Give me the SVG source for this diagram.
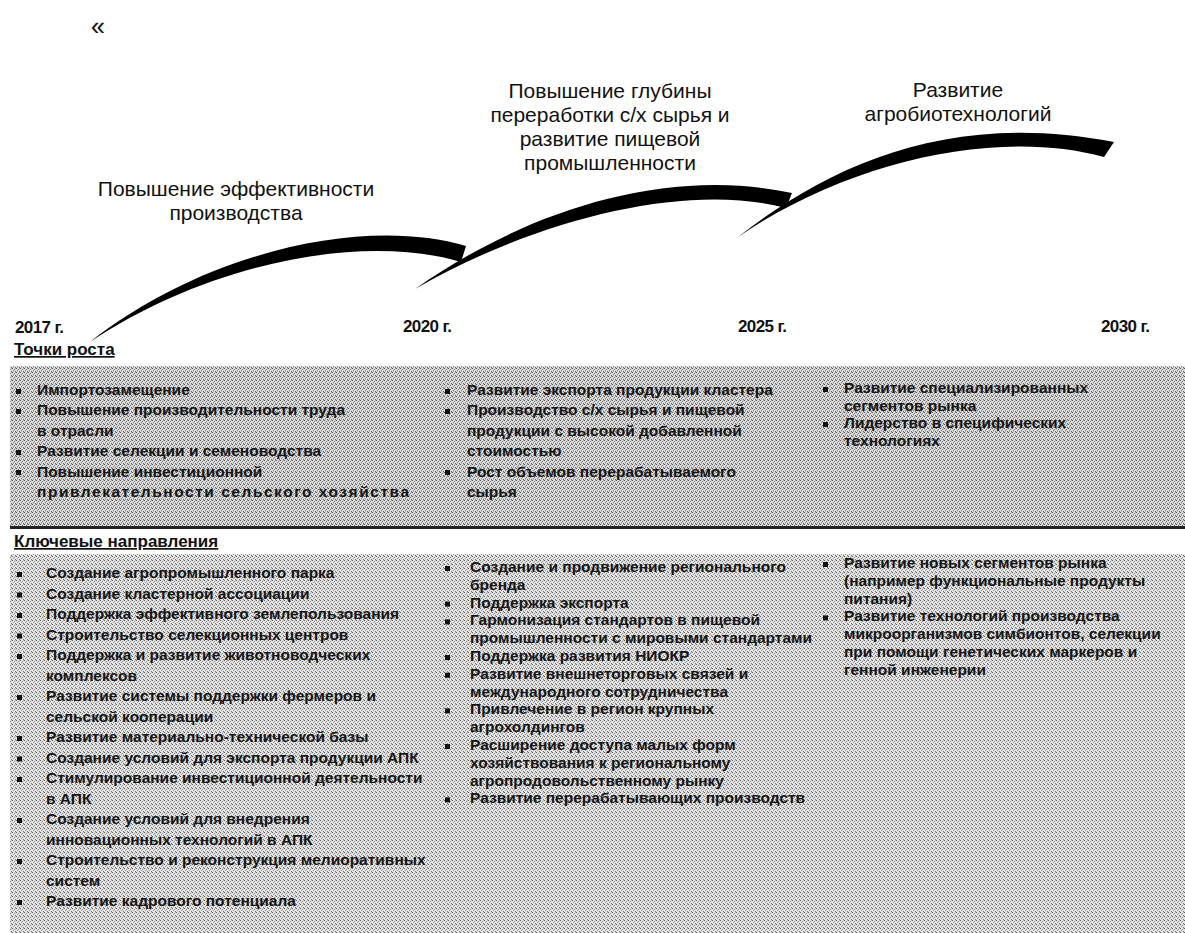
<svg xmlns="http://www.w3.org/2000/svg" width="1185" height="933" viewBox="0 0 1185 933">
<style>
.lbl{font-family:"Liberation Sans",Arial,sans-serif;font-size:21px;fill:#111;text-anchor:middle}
.yr{font-family:"Liberation Sans",Arial,sans-serif;font-size:17px;font-weight:bold;fill:#111;letter-spacing:-0.6px}
.hd{font-family:"Liberation Sans",Arial,sans-serif;font-size:17px;font-weight:bold;fill:#111;text-decoration:underline}
.it{font-family:"Liberation Sans",Arial,sans-serif;font-size:15.5px;font-weight:bold;fill:#151515}
.arc{fill:#000}
.bul{fill:#111}
</style>
<defs>
<pattern id="tex1" width="4" height="4" patternUnits="userSpaceOnUse">
<rect width="4" height="4" fill="#dcdcdc"/>
<rect x="0" y="0" width="1" height="1" fill="#555"/>
<rect x="2" y="1" width="1" height="1" fill="#7a7a7a"/>
<rect x="1" y="2" width="1" height="1" fill="#8c8c8c"/>
<rect x="3" y="3" width="1" height="1" fill="#666"/>
<rect x="3" y="0" width="1" height="1" fill="#aaa"/>
<rect x="1" y="3" width="1" height="1" fill="#b4b4b4"/>
</pattern>
<pattern id="tex2" width="4" height="4" patternUnits="userSpaceOnUse">
<rect width="4" height="4" fill="#e4e4e4"/>
<rect x="0" y="0" width="1" height="1" fill="#606060"/>
<rect x="2" y="1" width="1" height="1" fill="#8a8a8a"/>
<rect x="1" y="2" width="1" height="1" fill="#9c9c9c"/>
<rect x="3" y="3" width="1" height="1" fill="#777"/>
<rect x="3" y="0" width="1" height="1" fill="#bbb"/>
</pattern>
</defs>
<rect width="1185" height="933" fill="#fff"/>

<text x="91" y="35" font-family="Liberation Sans, Arial, sans-serif" font-size="25" fill="#111">«</text>

<g id="timeline">
<path class="arc" d="M90,342 C200,255 360,215 466,246 L461,262 C360,232 205,265 90,342 Z"/>
<path class="arc" d="M415,289 C520,215 660,165 792,193 L786,208 C690,182 540,217 415,289 Z"/>
<path class="arc" d="M738,237 C830,165 950,110 1114,142 L1104,157 C1000,128 850,160 738,237 Z"/>
</g>

<g id="stage1">
<text class="lbl" x="236" y="196">Повышение эффективности</text>
<text class="lbl" x="236" y="220">производства</text>
</g>
<g id="stage2">
<text class="lbl" x="610" y="98">Повышение глубины</text>
<text class="lbl" x="610" y="122">переработки с/х сырья и</text>
<text class="lbl" x="610" y="146">развитие пищевой</text>
<text class="lbl" x="610" y="170">промышленности</text>
</g>
<g id="stage3">
<text class="lbl" x="958" y="97">Развитие</text>
<text class="lbl" x="958" y="121">агробиотехнологий</text>
</g>

<g id="years">
<text class="yr" x="15" y="333">2017 г.</text>
<text class="yr" x="403" y="332">2020 г.</text>
<text class="yr" x="738" y="332">2025 г.</text>
<text class="yr" x="1101" y="332">2030 г.</text>
</g>

<g id="growth">
<text class="hd" x="14" y="355">Точки роста</text>
<rect x="10" y="366" width="1175" height="161" fill="url(#tex1)"/>
<rect x="10" y="526" width="1175" height="3" fill="#222"/>
<g>
<rect class="bul" x="16" y="389" width="5" height="5"/>
<text class="it" x="37" y="395">Импортозамещение</text>
<rect class="bul" x="16" y="409" width="5" height="5"/>
<text class="it" x="37" y="415.4">Повышение производительности труда</text>
<text class="it" x="37" y="435.8">в отрасли</text>
<rect class="bul" x="16" y="450" width="5" height="5"/>
<text class="it" x="37" y="456.2">Развитие селекции и семеноводства</text>
<rect class="bul" x="16" y="470" width="5" height="5"/>
<text class="it" x="37" y="476.6">Повышение инвестиционной</text>
<text class="it" x="37" y="497" textLength="372" lengthAdjust="spacing">привлекательности сельского хозяйства</text>
</g>
<g>
<rect class="bul" x="445" y="389" width="5" height="5"/>
<text class="it" x="467" y="395">Развитие экспорта продукции кластера</text>
<rect class="bul" x="445" y="409" width="5" height="5"/>
<text class="it" x="467" y="415.4">Производство с/х сырья и пищевой</text>
<text class="it" x="467" y="435.8">продукции с высокой добавленной</text>
<text class="it" x="467" y="456.2">стоимостью</text>
<rect class="bul" x="445" y="470" width="5" height="5"/>
<text class="it" x="467" y="476.6">Рост объемов перерабатываемого</text>
<text class="it" x="467" y="497">сырья</text>
</g>
<g>
<rect class="bul" x="823" y="387" width="5" height="5"/>
<text class="it" x="844" y="393">Развитие специализированных</text>
<text class="it" x="844" y="410.5">сегментов рынка</text>
<rect class="bul" x="823" y="422" width="5" height="5"/>
<text class="it" x="844" y="428">Лидерство в специфических</text>
<text class="it" x="844" y="445.5">технологиях</text>
</g>
</g>

<g id="directions">
<text class="hd" x="14" y="547">Ключевые направления</text>
<rect x="10" y="554" width="1175" height="379" fill="url(#tex2)"/>
<g>
<rect class="bul" x="17" y="572" width="5" height="5"/>
<text class="it" x="46" y="578">Создание агропромышленного парка</text>
<rect class="bul" x="17" y="592.5" width="5" height="5"/>
<text class="it" x="46" y="598.5">Создание кластерной ассоциации</text>
<rect class="bul" x="17" y="613" width="5" height="5"/>
<text class="it" x="46" y="619">Поддержка эффективного землепользования</text>
<rect class="bul" x="17" y="633.5" width="5" height="5"/>
<text class="it" x="46" y="639.5">Строительство селекционных центров</text>
<rect class="bul" x="17" y="654" width="5" height="5"/>
<text class="it" x="46" y="660">Поддержка и развитие животноводческих</text>
<text class="it" x="46" y="680.5">комплексов</text>
<rect class="bul" x="17" y="695" width="5" height="5"/>
<text class="it" x="46" y="701">Развитие системы поддержки фермеров и</text>
<text class="it" x="46" y="721.5">сельской кооперации</text>
<rect class="bul" x="17" y="736" width="5" height="5"/>
<text class="it" x="46" y="742">Развитие материально-технической базы</text>
<rect class="bul" x="17" y="756.5" width="5" height="5"/>
<text class="it" x="46" y="762.5">Создание условий для экспорта продукции АПК</text>
<rect class="bul" x="17" y="777" width="5" height="5"/>
<text class="it" x="46" y="783">Стимулирование инвестиционной деятельности</text>
<text class="it" x="46" y="803.5">в АПК</text>
<rect class="bul" x="17" y="818" width="5" height="5"/>
<text class="it" x="46" y="824">Создание условий для внедрения</text>
<text class="it" x="46" y="844.5">инновационных технологий в АПК</text>
<rect class="bul" x="17" y="859" width="5" height="5"/>
<text class="it" x="46" y="865">Строительство и реконструкция мелиоративных</text>
<text class="it" x="46" y="885.5">систем</text>
<rect class="bul" x="17" y="900" width="5" height="5"/>
<text class="it" x="46" y="906">Развитие кадрового потенциала</text>
</g>
<g>
<rect class="bul" x="445" y="566" width="5" height="5"/>
<text class="it" x="470" y="572">Создание и продвижение регионального</text>
<text class="it" x="470" y="589.8">бренда</text>
<rect class="bul" x="445" y="601.6" width="5" height="5"/>
<text class="it" x="470" y="607.6">Поддержка экспорта</text>
<rect class="bul" x="445" y="619.4" width="5" height="5"/>
<text class="it" x="470" y="625.4">Гармонизация стандартов в пищевой</text>
<text class="it" x="470" y="643.2">промышленности с мировыми стандартами</text>
<rect class="bul" x="445" y="655" width="5" height="5"/>
<text class="it" x="470" y="661">Поддержка развития НИОКР</text>
<rect class="bul" x="445" y="672.8" width="5" height="5"/>
<text class="it" x="470" y="678.8">Развитие внешнеторговых связей и</text>
<text class="it" x="470" y="696.6">международного сотрудничества</text>
<rect class="bul" x="445" y="708.4" width="5" height="5"/>
<text class="it" x="470" y="714.4">Привлечение в регион крупных</text>
<text class="it" x="470" y="732.2">агрохолдингов</text>
<rect class="bul" x="445" y="744" width="5" height="5"/>
<text class="it" x="470" y="750">Расширение доступа малых форм</text>
<text class="it" x="470" y="767.8">хозяйствования к региональному</text>
<text class="it" x="470" y="785.6">агропродовольственному рынку</text>
<rect class="bul" x="445" y="797.4" width="5" height="5"/>
<text class="it" x="470" y="803.4">Развитие перерабатывающих производств</text>
</g>
<g>
<rect class="bul" x="823" y="562" width="5" height="5"/>
<text class="it" x="844" y="568">Развитие новых сегментов рынка</text>
<text class="it" x="844" y="585.8">(например функциональные продукты</text>
<text class="it" x="844" y="603.6">питания)</text>
<rect class="bul" x="823" y="615.4" width="5" height="5"/>
<text class="it" x="844" y="621.4">Развитие технологий производства</text>
<text class="it" x="844" y="639.2">микроорганизмов симбионтов, селекции</text>
<text class="it" x="844" y="657">при помощи генетических маркеров и</text>
<text class="it" x="844" y="674.8">генной инженерии</text>
</g>
</g>
</svg>
